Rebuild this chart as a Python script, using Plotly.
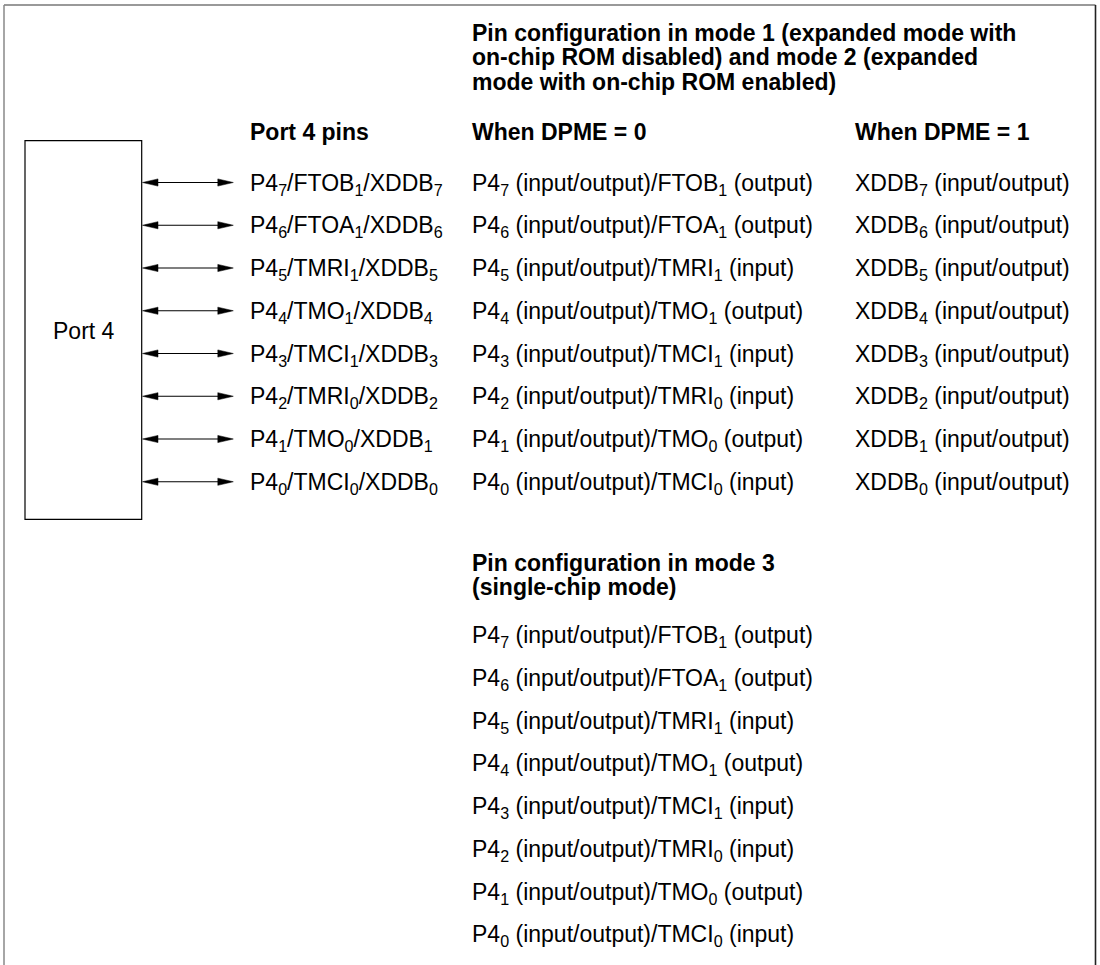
"""Port 4 pin configuration diagram (Plotly)"""

import plotly.graph_objects as go

# Port 4 pins (column 1) / DPME = 0 (column 2) / DPME = 1 (column 3)
PORT_PINS = [
    "P4<sub>7</sub>/FTOB<sub>1</sub>/XDDB<sub>7</sub>",
    "P4<sub>6</sub>/FTOA<sub>1</sub>/XDDB<sub>6</sub>",
    "P4<sub>5</sub>/TMRI<sub>1</sub>/XDDB<sub>5</sub>",
    "P4<sub>4</sub>/TMO<sub>1</sub>/XDDB<sub>4</sub>",
    "P4<sub>3</sub>/TMCI<sub>1</sub>/XDDB<sub>3</sub>",
    "P4<sub>2</sub>/TMRI<sub>0</sub>/XDDB<sub>2</sub>",
    "P4<sub>1</sub>/TMO<sub>0</sub>/XDDB<sub>1</sub>",
    "P4<sub>0</sub>/TMCI<sub>0</sub>/XDDB<sub>0</sub>",
]
DPME0_FUNCS = [
    "P4<sub>7</sub> (input/output)/FTOB<sub>1</sub> (output)",
    "P4<sub>6</sub> (input/output)/FTOA<sub>1</sub> (output)",
    "P4<sub>5</sub> (input/output)/TMRI<sub>1</sub> (input)",
    "P4<sub>4</sub> (input/output)/TMO<sub>1</sub> (output)",
    "P4<sub>3</sub> (input/output)/TMCI<sub>1</sub> (input)",
    "P4<sub>2</sub> (input/output)/TMRI<sub>0</sub> (input)",
    "P4<sub>1</sub> (input/output)/TMO<sub>0</sub> (output)",
    "P4<sub>0</sub> (input/output)/TMCI<sub>0</sub> (input)",
]
DPME1_FUNCS = [
    "XDDB<sub>7</sub> (input/output)",
    "XDDB<sub>6</sub> (input/output)",
    "XDDB<sub>5</sub> (input/output)",
    "XDDB<sub>4</sub> (input/output)",
    "XDDB<sub>3</sub> (input/output)",
    "XDDB<sub>2</sub> (input/output)",
    "XDDB<sub>1</sub> (input/output)",
    "XDDB<sub>0</sub> (input/output)",
]
# mode 3 (single-chip) は DPME=0 と同じ機能
MODE3_FUNCS = list(DPME0_FUNCS)

HEADER_MODE12 = [
    "Pin configuration in mode 1 (expanded mode with",
    "on-chip ROM disabled) and mode 2 (expanded",
    "mode with on-chip ROM enabled)",
]
HEADER_MODE3 = ["Pin configuration in mode 3", "(single-chip mode)"]
COL_TITLES = ["Port 4 pins", "When DPME = 0", "When DPME = 1"]
BOX_LABEL = "Port 4"

W, H = 1100, 965
FONT = "Liberation Sans, Arial, sans-serif"
FS = 23
ROW_STEP = 42.75
HEAD_STEP = 24.4
COL_X = [248, 470, 853]
SUB_SHIFT = 1.5  # 下付き文字ぶん行の中心がずれるので補正


def _text(fig, x, y, text, bold=False, anchor="left"):
    fig.add_annotation(
        x=x, y=y, xref="x", yref="y",
        text=f"<b>{text}</b>" if bold else text,
        showarrow=False, xanchor=anchor, yanchor="middle",
        font=dict(family=FONT, size=FS, color="#000"),
    )


def _double_arrow(fig, x0, x1, y, head=15.5, half=3.6):
    fig.add_shape(type="line", x0=x0 + 3, x1=x1 - 3, y0=y, y1=y,
                  line=dict(color="#000", width=1.2))
    left = f"M{x0},{y} L{x0 + head},{y - half} L{x0 + head},{y + half} Z"
    right = f"M{x1},{y} L{x1 - head},{y - half} L{x1 - head},{y + half} Z"
    for p in (left, right):
        fig.add_shape(type="path", path=p, fillcolor="#000",
                      line=dict(color="#000", width=0.5))


fig = go.Figure()

# 外枠 (下辺なし)
fig.add_shape(type="line", x0=4, x1=1095.5, y0=5, y1=5, line=dict(color="#777", width=1.5))
fig.add_shape(type="line", x0=4, x1=4, y0=5, y1=H, line=dict(color="#888", width=1.5))
fig.add_shape(type="line", x0=1095.5, x1=1095.5, y0=5, y1=H, line=dict(color="#222", width=1.6))

# Port 4 ブロック
fig.add_shape(type="rect", x0=25, x1=141.7, y0=140.7, y1=519.3, line=dict(color="#000", width=1.2))
_text(fig, 84, 331, BOX_LABEL, anchor="center")

for i, line in enumerate(HEADER_MODE12):
    _text(fig, COL_X[1], 33 + HEAD_STEP * i, line, bold=True)
for x, t in zip(COL_X, COL_TITLES):
    _text(fig, x, 132, t, bold=True)

for i, (pin, f0, f1) in enumerate(zip(PORT_PINS, DPME0_FUNCS, DPME1_FUNCS)):
    y = 182.5 + ROW_STEP * i
    _double_arrow(fig, 142.5, 233.3, y)
    _text(fig, COL_X[0], y + SUB_SHIFT, pin)
    _text(fig, COL_X[1], y + SUB_SHIFT, f0)
    _text(fig, COL_X[2], y + SUB_SHIFT, f1)

for i, line in enumerate(HEADER_MODE3):
    _text(fig, COL_X[1], 562.5 + HEAD_STEP * i, line, bold=True)
for i, f in enumerate(MODE3_FUNCS):
    _text(fig, COL_X[1], 635 + ROW_STEP * i + SUB_SHIFT, f)

fig.update_layout(
    width=W, height=H,
    margin=dict(l=0, r=0, t=0, b=0),
    paper_bgcolor="white", plot_bgcolor="white",
    showlegend=False,
)
fig.update_xaxes(range=[0, W], visible=False, fixedrange=True)
fig.update_yaxes(range=[H, 0], visible=False, fixedrange=True)

# ページ既定の body 余白 (8px) を消してピクセル座標を一致させる
fig.write_html(
    "out.html",
    config={"displayModeBar": False},
    post_script="document.body.style.margin='0';",
)
